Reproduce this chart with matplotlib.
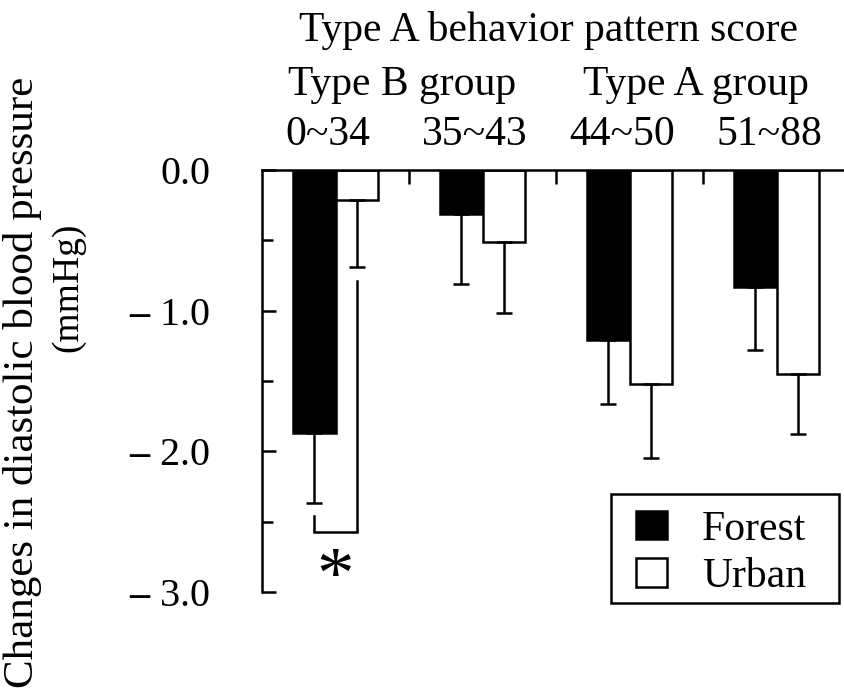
import numpy as np
import matplotlib
matplotlib.use("Agg")
import matplotlib.pyplot as plt
import matplotlib.transforms as mtransforms
from matplotlib.patches import Patch, Rectangle
from matplotlib.ticker import MultipleLocator

plt.rcParams['font.family'] = ['Liberation Serif', 'DejaVu Serif']
plt.rcParams['mathtext.fontset'] = 'custom'
plt.rcParams['mathtext.rm'] = 'Liberation Serif'
plt.rcParams['mathtext.bf'] = 'Liberation Serif:bold'

# score ranges (top axis) and diastolic BP changes
score_ranges = ["0~34", "35~43", "44~50", "51~88"]
forest_mean = [-1.87, -0.31, -1.21, -0.83]
forest_err = [0.50, 0.50, 0.45, 0.45]
urban_mean = [-0.21, -0.51, -1.52, -1.45]
urban_err = [0.48, 0.51, 0.53, 0.43]
y_ticks = [0, -1, -2, -3]

fig = plt.figure(figsize=(8.44, 6.92), dpi=100)
W, H = 844, 692
ax = fig.add_axes([262 / W, 1 - 592 / H, 588 / W, 422 / H])

LW = 1.8
x = np.arange(len(score_ranges))
bw = 0.29

ax.bar(x - bw / 2, forest_mean, bw, color="black", edgecolor="black", linewidth=LW)
ax.bar(x + bw / 2, urban_mean, bw, color="white", edgecolor="black", linewidth=LW)

# one-sided (downward) error bars
ax.errorbar(x - bw / 2, forest_mean, yerr=[forest_err, [0] * 4], fmt="none",
            ecolor="black", elinewidth=LW, capsize=6, capthick=LW)
ax.errorbar(x + bw / 2, urban_mean, yerr=[urban_err, [0] * 4], fmt="none",
            ecolor="black", elinewidth=LW, capsize=6, capthick=LW)

# significance bracket for the first group
bx0, bx1 = x[0] - bw / 2, x[0] + bw / 2
ax.plot([bx0, bx0, bx1, bx1], [-2.46, -2.575, -2.575, -0.79],
        color="black", lw=LW, solid_joinstyle="miter")
ax.text(x[0], -2.92, "*", ha="center", va="center", fontsize=54)

ax.set_xlim(-0.5, 3.5)
ax.set_ylim(-3.0, 0.0)

for s in ["right", "bottom"]:
    ax.spines[s].set_visible(False)
for s in ["top", "left"]:
    ax.spines[s].set_linewidth(LW)

# tick labels with a heavy dash for negatives
def fmt_tick(v):
    if v == 0:
        return "0.0"
    return "$\\mathbf{\u2013}$" + " %.1f" % abs(v)

ax.yaxis.set_minor_locator(MultipleLocator(0.5))
ax.set_yticks(y_ticks)
ax.set_yticklabels([fmt_tick(v) for v in y_ticks], fontsize=29)
ax.tick_params(axis="y", which="major", direction="in", length=10, width=LW, pad=37)
ax.tick_params(axis="y", which="minor", direction="in", length=8, width=LW)

ax.xaxis.tick_top()
ax.set_xticks([0.5, 1.5, 2.5])
ax.set_xticklabels([])
ax.tick_params(axis="x", which="major", direction="in", length=10, width=LW)
ax.tick_params(axis="x", which="minor", top=False, bottom=False)

# header labels above the plot
tr = mtransforms.blended_transform_factory(ax.transData, fig.transFigure)
dx = -0.05
for i, r in enumerate(score_ranges):
    fig.text(x[i] + dx, 1 - 145 / H, r, transform=tr, ha="center", va="baseline", fontsize=30)
fig.text(0.5 + dx, 1 - 95 / H, "Type B group", transform=tr, ha="center", va="baseline", fontsize=30)
fig.text(2.5 + dx, 1 - 95 / H, "Type A group", transform=tr, ha="center", va="baseline", fontsize=30)
fig.text(1.5 + dx, 1 - 41 / H, "Type A behavior pattern score", transform=tr,
         ha="center", va="baseline", fontsize=30)

fig.text(23 / W, 1 - 382 / H, "Changes in diastolic blood pressure", rotation=90,
         ha="center", va="center", fontsize=31)
fig.text(68 / W, 1 - 287 / H, "(mmHg)", rotation=90, ha="center", va="center", fontsize=27)

# legend entries without frame, box drawn separately
handles = [Patch(facecolor="black", edgecolor="black", linewidth=LW, label="Forest"),
           Patch(facecolor="white", edgecolor="black", linewidth=LW, label="Urban")]
fig.legend(handles=handles, loc="upper left", bbox_to_anchor=(636 / W, 1 - 510 / H),
           fontsize=30, frameon=False, handlelength=0.74, handleheight=0.67,
           handletextpad=0.84, borderpad=0, labelspacing=0.22, borderaxespad=0)
fig.add_artist(Rectangle((611 / W, 1 - 603 / H), 228 / W, 109 / H, transform=fig.transFigure,
                         fill=False, edgecolor="black", linewidth=LW))

fig.savefig("out.png", dpi=100)
